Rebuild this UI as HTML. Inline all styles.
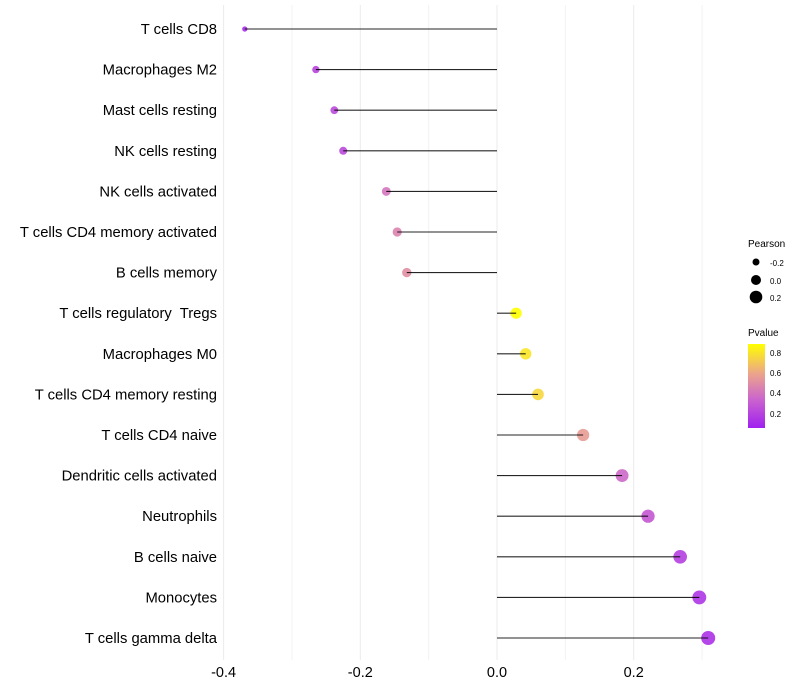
<!DOCTYPE html>
<html><head><meta charset="utf-8"><style>
body{margin:0;background:#fff;font-family:"Liberation Sans",sans-serif}
svg{display:block}
</style></head><body>
<svg id="chart" width="800" height="700">
<defs><linearGradient id="pg" x1="0" y1="1" x2="0" y2="0">
<stop offset="0" stop-color="#a020f0"/><stop offset="0.35" stop-color="#cc66cc"/>
<stop offset="0.65" stop-color="#eca58a"/><stop offset="1" stop-color="#ffff00"/></linearGradient></defs>
<g id="grid"></g><g id="marks"></g><g id="labels"></g>
<g font-size="10">
<text x="748" y="247" fill="#000">Pearson</text>
<circle cx="756" cy="262" r="3.5" fill="#000"/><text x="770" y="266" font-size="8">-0.2</text>
<circle cx="756" cy="280" r="5" fill="#000"/><text x="770" y="284" font-size="8">0.0</text>
<circle cx="756" cy="297" r="6.3" fill="#000"/><text x="770" y="301" font-size="8">0.2</text>
<text x="748" y="336" fill="#000">Pvalue</text>
<rect x="748" y="344" width="17" height="84" fill="url(#pg)"/>
<text x="770" y="356" font-size="8">0.8</text><text x="770" y="376" font-size="8">0.6</text>
<text x="770" y="396" font-size="8">0.4</text><text x="770" y="417" font-size="8">0.2</text>
</g>
</svg>
<script>
const categories=["T cells CD8","Macrophages M2","Mast cells resting","NK cells resting","NK cells activated","T cells CD4 memory activated","B cells memory","T cells regulatory  Tregs","Macrophages M0","T cells CD4 memory resting","T cells CD4 naive","Dendritic cells activated","Neutrophils","B cells naive","Monocytes","T cells gamma delta"];
const pearson=[-0.369,-0.265,-0.238,-0.225,-0.162,-0.146,-0.132,0.028,0.042,0.060,0.126,0.183,0.221,0.268,0.296,0.309];
const pvalue=[0.1,0.2,0.22,0.22,0.4,0.45,0.5,0.88,0.8,0.75,0.55,0.35,0.28,0.18,0.14,0.12];
const ticks=[-0.4,-0.2,0.0,0.2];
const tickLabels=["-0.4","-0.2","0.0","0.2"];
const minorTicks=[-0.3,-0.1,0.1,0.3];
const NS="http://www.w3.org/2000/svg";
const x=v=>497+v*683.5;
const y=i=>29+i*40.6;
const r=v=>Math.sqrt(7+(v+0.37)*62);
const stops=[[0,[160,32,240]],[0.35,[204,102,204]],[0.65,[236,165,138]],[1,[255,255,0]]];
function col(p){let t=(p-0.05)/0.83;t=Math.max(0,Math.min(1,t));
for(let k=1;k<stops.length;k++){if(t<=stops[k][0]){const a=stops[k-1],b=stops[k];const f=(t-a[0])/(b[0]-a[0]);
return 'rgb('+a[1].map((c,j)=>Math.round(c+(b[1][j]-c)*f)).join(',')+')';}}return 'rgb(255,255,0)';}
function mk(t,a,p){const e=document.createElementNS(NS,t);for(const k in a)e.setAttribute(k,a[k]);p.appendChild(e);return e;}
const G=document.getElementById('grid'),M=document.getElementById('marks'),L=document.getElementById('labels');
minorTicks.forEach(v=>{const l=mk('line',{x1:x(v),x2:x(v),y1:5,y2:660,stroke:'#f2f2f2','stroke-width':1},G);

});
ticks.forEach((v,i)=>{const l=mk('line',{x1:x(v),x2:x(v),y1:5,y2:660,stroke:'#ebebeb','stroke-width':1},G);


const t=mk('text',{x:x(v),y:677,'text-anchor':'middle','font-size':14.5,fill:'#000'},L);t.textContent=tickLabels[i];

});
categories.forEach((c,i)=>{
const cc=mk('circle',{cx:x(pearson[i]),cy:y(i),r:r(pearson[i]),fill:col(pvalue[i]),'fill-opacity':0.9},M);


const ln=mk('line',{x1:x(pearson[i]),x2:x(0),y1:y(i),y2:y(i),stroke:'#000','stroke-width':1.1,'stroke-opacity':0.85},M);


const t=mk('text',{x:217,y:y(i)+5,'text-anchor':'end','font-size':14.8,fill:'#000',style:'white-space:pre'},L);t.textContent=c;

});
</script>
</body></html>
